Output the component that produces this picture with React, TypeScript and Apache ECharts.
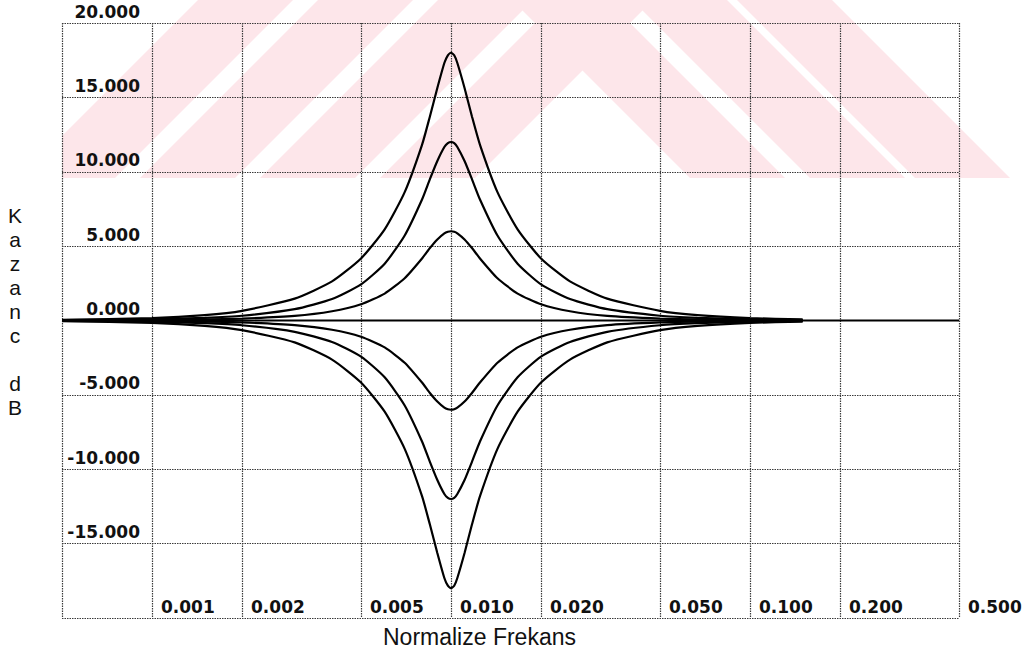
import React, { useEffect, useRef } from "react";
import * as echarts from "echarts";

// Normalized frequency samples (log axis) and gain readings in dB
const freqs = [
  0.0005, 0.001, 0.0015, 0.002, 0.003, 0.004, 0.005, 0.006, 0.007, 0.008, 0.0085,
  0.009, 0.0095, 0.00976, 0.01, 0.01025, 0.0105, 0.0111, 0.01175, 0.0125, 0.0143,
  0.0167, 0.02, 0.025, 0.0333, 0.05, 0.0667, 0.1, 0.15,
];
const boost18 = [
  0.04, 0.16, 0.36, 0.65, 1.47, 2.63, 4.17, 6.13, 8.63, 11.81, 13.72, 15.63, 17.31,
  17.83, 18.0, 17.83, 17.31, 15.63, 13.72, 11.81, 8.63, 6.13, 4.17, 2.63, 1.47, 0.65,
  0.36, 0.16, 0.07,
];
const boost12 = [
  0.02, 0.08, 0.18, 0.32, 0.76, 1.44, 2.43, 3.82, 5.71, 8.13, 9.5, 10.72, 11.66, 11.92,
  12.0, 11.92, 11.66, 10.72, 9.5, 8.13, 5.71, 3.82, 2.43, 1.44, 0.76, 0.32, 0.18, 0.08,
  0.035,
];
const boost6 = [
  0.01, 0.03, 0.07, 0.13, 0.31, 0.62, 1.09, 1.81, 2.84, 4.17, 4.87, 5.45, 5.86, 5.97,
  6.0, 5.97, 5.86, 5.45, 4.87, 4.17, 2.84, 1.81, 1.09, 0.62, 0.31, 0.13, 0.07, 0.03,
  0.015,
];
const cut6 = [
  -0.01, -0.03, -0.07, -0.13, -0.31, -0.62, -1.09, -1.81, -2.84, -4.17, -4.87, -5.45,
  -5.86, -5.97, -6.0, -5.97, -5.86, -5.45, -4.87, -4.17, -2.84, -1.81, -1.09, -0.62,
  -0.31, -0.13, -0.07, -0.03, -0.015,
];
const cut12 = [
  -0.02, -0.08, -0.18, -0.32, -0.76, -1.44, -2.43, -3.82, -5.71, -8.13, -9.5, -10.72,
  -11.66, -11.92, -12.0, -11.92, -11.66, -10.72, -9.5, -8.13, -5.71, -3.82, -2.43,
  -1.44, -0.76, -0.32, -0.18, -0.08, -0.035,
];
const cut18 = [
  -0.04, -0.16, -0.36, -0.65, -1.47, -2.63, -4.17, -6.13, -8.63, -11.81, -13.72,
  -15.63, -17.31, -17.83, -18.0, -17.83, -17.31, -15.63, -13.72, -11.81, -8.63, -6.13,
  -4.17, -2.63, -1.47, -0.65, -0.36, -0.16, -0.07,
];
const baseFreqs = [0.0005, 0.5];
const baseGain = [0, 0];

const xTickValues = [0.001, 0.002, 0.005, 0.01, 0.02, 0.05, 0.1, 0.2, 0.5];
const xGridValues = [0.0005, 0.001, 0.002, 0.005, 0.01, 0.02, 0.05, 0.1, 0.2, 0.5];
const yTickValues = [20, 15, 10, 5, 0, -5, -10, -15];

const xTitle = "Normalize Frekans";
const yTitle = "K\na\nz\na\nn\nc\n\nd\nB";

const PINK = "#fde6ea";

export default function App() {
  const ref = useRef<HTMLDivElement>(null);

  useEffect(() => {
    const chart = echarts.init(ref.current!, null, { renderer: "svg" });
    const lg = (f: number) => Math.log10(f);
    const mk = (fs: number[], g: number[]) => fs.map((f, i) => [lg(f), g[i]]);
    const curves = [boost18, boost12, boost6, cut6, cut12, cut18];

    const gridStyle = { color: "#3a3a3a", width: 1.2, type: [1.5, 1] as any };
    const tickFont = {
      fontFamily: "DejaVu Sans",
      fontWeight: "bold" as const,
      fontSize: 17,
      color: "#111",
    };

    // watermark stripes (behind the chart)
    const H = 178;
    const W = 95;
    const leftStarts = [20, 140, 260, 380];
    const rightStarts = [690, 810, 915];
    const stripes: any[] = [];
    leftStarts.forEach((x) => {
      stripes.push({
        type: "polygon",
        z: -20,
        silent: true,
        shape: { points: [[x, H], [x + W, H], [x + W + H, 0], [x + H, 0]] },
        style: { fill: PINK },
      });
    });
    rightStarts.forEach((x) => {
      stripes.push({
        type: "polygon",
        z: -20,
        silent: true,
        shape: { points: [[x, H], [x + W, H], [x + W - H, 0], [x - H, 0]] },
        style: { fill: PINK },
      });
    });
    stripes.push({
      type: "rect",
      z: -19,
      silent: true,
      shape: { x: 0, y: 0, width: 62, height: H + 2 },
      style: { fill: "#fff" },
    });

    chart.setOption({
      animation: false,
      backgroundColor: "#fff",
      grid: { left: 62, right: 75, top: 23, bottom: 36, containLabel: false },
      xAxis: {
        type: "value",
        min: lg(0.0005),
        max: lg(0.5),
        axisLine: { show: false },
        axisTick: { show: false, customValues: xGridValues.map(lg) },
        splitLine: { show: true, lineStyle: gridStyle },
        axisLabel: {
          show: true,
          inside: true,
          customValues: xTickValues.map(lg),
          formatter: (v: number) => Math.pow(10, v).toFixed(3),
          align: "left",
          verticalAlign: "bottom",
          margin: 3,
          padding: [0, 0, 0, 9],
          ...tickFont,
        },
      },
      yAxis: {
        type: "value",
        min: -20,
        max: 20,
        interval: 5,
        axisLine: { show: false },
        axisTick: { show: false },
        splitLine: { show: true, lineStyle: gridStyle },
        axisLabel: {
          show: true,
          inside: true,
          customValues: yTickValues,
          formatter: (v: number) => v.toFixed(3),
          align: "right",
          verticalAlign: "bottom",
          margin: 78,
          padding: [0, 0, 3, 0],
          ...tickFont,
        },
      },
      graphic: [
        ...stripes,
        {
          type: "text",
          left: 383,
          top: 625,
          style: {
            text: xTitle,
            fontFamily: "Liberation Sans",
            fontSize: 23,
            fill: "#111",
          },
        },
        {
          type: "text",
          x: 15,
          y: 203,
          style: {
            text: yTitle,
            fontFamily: "Liberation Sans",
            fontSize: 21,
            lineHeight: 24,
            align: "center",
            verticalAlign: "top",
            fill: "#111",
          },
        },
      ],
      series: [
        {
          type: "line",
          data: mk(baseFreqs, baseGain),
          showSymbol: false,
          lineStyle: { color: "#000", width: 2.2 },
          z: 3,
        },
        ...curves.map((g) => ({
          type: "line",
          data: mk(freqs, g),
          showSymbol: false,
          smooth: 0.2,
          lineStyle: { color: "#000", width: 2.2 },
          z: 3,
        })),
      ],
    });
    return () => chart.dispose();
  }, []);

  return (
    <div
      ref={ref}
      style={{ position: "fixed", left: 0, top: 0, width: 1034, height: 654 }}
    />
  );
}
